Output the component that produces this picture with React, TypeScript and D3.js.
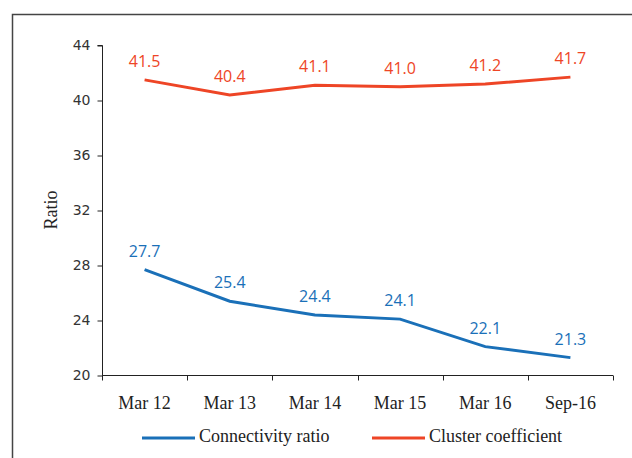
import React, { useEffect, useRef } from "react";
import * as d3 from "d3";

const categories = ["Mar 12", "Mar 13", "Mar 14", "Mar 15", "Mar 16", "Sep-16"];
const connectivity = [27.7, 25.4, 24.4, 24.1, 22.1, 21.3];
const cluster = [41.5, 40.4, 41.1, 41.0, 41.2, 41.7];
const yTicks = [20, 24, 28, 32, 36, 40, 44];

const series = [
  { name: "Connectivity ratio", values: connectivity, color: "#1a70b8" },
  { name: "Cluster coefficient", values: cluster, color: "#ee4526" },
];

const App: React.FC = () => {
  const svgRef = useRef<SVGSVGElement | null>(null);

  useEffect(() => {
    const width = 632;
    const height = 458;
    const svg = d3.select(svgRef.current).attr("width", width).attr("height", height);
    svg.selectAll("*").remove();

    const serif = "'Liberation Serif', serif";
    const sans = "'Open Sans', sans-serif";

    // frame
    svg.append("path")
      .attr("d", `M12.5,${height} V14.5 H${width}`)
      .attr("fill", "none")
      .attr("stroke", "#444")
      .attr("stroke-width", 1.5);

    const x = d3.scaleBand().domain(categories).range([102, 613]);
    const y = d3.scaleLinear().domain([20, 44]).range([375.5, 45.5]);

    // y axis
    const yAxis = svg.append("g")
      .attr("transform", "translate(102.5,0)")
      .call(d3.axisLeft(y).tickValues(yTicks).tickSize(5).tickPadding(7));
    yAxis.select(".domain").attr("stroke", "#222").attr("d", `M-5,${y(44)}H0V${y(20)}`);
    yAxis.selectAll(".tick line").attr("stroke", "#222");
    yAxis.selectAll(".tick text")
      .attr("fill", "#333")
      .style("font-family", "'DejaVu Sans', sans-serif")
      .style("font-size", "14px");

    // x axis
    const xAxis = svg.append("g")
      .attr("transform", `translate(0,${y(20)})`);
    xAxis.append("line")
      .attr("x1", 102).attr("x2", 613)
      .attr("stroke", "#222");
    const bounds = [...categories.map((c) => x(c) as number), 613];
    xAxis.selectAll(".xt")
      .data(bounds)
      .enter()
      .append("line")
      .attr("x1", (d) => Math.round(d) + 0.5)
      .attr("x2", (d) => Math.round(d) + 0.5)
      .attr("y1", 0)
      .attr("y2", 5)
      .attr("stroke", "#222");
    xAxis.selectAll(".xl")
      .data(categories)
      .enter()
      .append("text")
      .attr("x", (d) => (x(d) as number) + x.bandwidth() / 2)
      .attr("y", 33)
      .attr("text-anchor", "middle")
      .attr("fill", "#222")
      .style("font-family", serif)
      .style("font-size", "18px")
      .text((d) => d);

    // y label
    svg.append("text")
      .attr("transform", "translate(57,210) rotate(-90)")
      .attr("text-anchor", "middle")
      .attr("fill", "#222")
      .style("font-family", serif)
      .style("font-size", "18px")
      .text("Ratio");

    const cx = (i: number) => (x(categories[i]) as number) + x.bandwidth() / 2;
    const line = d3.line<number>()
      .x((_, i) => cx(i))
      .y((d) => y(d));

    series.forEach((s) => {
      svg.append("path")
        .datum(s.values)
        .attr("d", line)
        .attr("fill", "none")
        .attr("stroke", s.color)
        .attr("stroke-width", 3);
      svg.selectAll(null)
        .data(s.values)
        .enter()
        .append("text")
        .attr("x", (_, i) => cx(i))
        .attr("y", (d) => y(d) - 13)
        .attr("text-anchor", "middle")
        .attr("fill", s.color)
        .style("font-family", sans)
        .style("font-size", "16px")
        .text((d) => d.toFixed(1));
    });

    // legend
    const legendX = [142, 372];
    series.forEach((s, i) => {
      const g = svg.append("g").attr("transform", `translate(${legendX[i]},438)`);
      g.append("line")
        .attr("x1", 0).attr("x2", 53)
        .attr("stroke", s.color)
        .attr("stroke-width", 3);
      g.append("text")
        .attr("x", 57)
        .attr("y", 4)
        .attr("fill", "#222")
        .style("font-family", serif)
        .style("font-size", "18px")
        .text(s.name);
    });
  }, []);

  return <svg ref={svgRef} style={{ position: "absolute", left: 0, top: 0 }} />;
};

export default App;
